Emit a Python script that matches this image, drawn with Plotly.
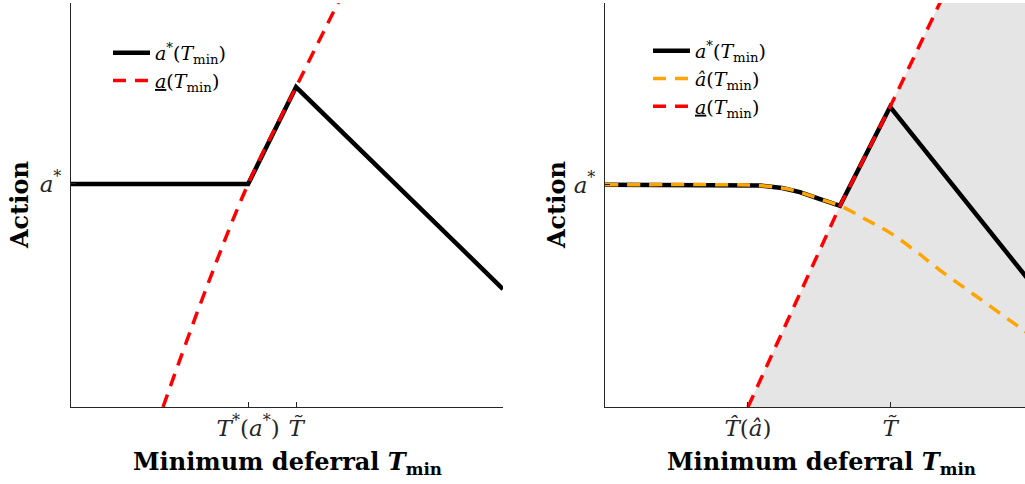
import plotly.graph_objects as go

# ---------------- data ----------------
# Left panel
L_black_x = [0, 4.10, 5.21, 10]
L_black_y = [5.52, 5.52, 7.92, 2.92]
L_red_x = [2.13, 3.10, 4.10, 5.21, 6.18, 6.60]
L_red_y = [0, 2.85, 5.52, 7.92, 10, 10.9]
L_xtick_vals = [4.10, 5.21]
L_xtick_text = ["<i>T</i><sup>*</sup>(<i>a</i><sup>*</sup>)", "<i>T\u0303</i>"]
L_ytick_vals = [5.52]
L_ytick_text = ["<i>a</i><sup>*</sup>"]

# Right panel
R_black_x = [0, 3.0, 3.6, 4.1, 4.51, 4.91, 5.44, 6.60, 10.2]
R_black_y = [5.50, 5.50, 5.48, 5.42, 5.32, 5.17, 4.98, 7.43, 2.62]
R_orange_x = [0, 3.0, 3.6, 4.1, 4.51, 4.91, 5.44, 6.06, 6.60, 7.2, 7.75, 8.7, 9.61, 10.2]
R_orange_y = [5.50, 5.50, 5.48, 5.42, 5.32, 5.17, 4.98, 4.63, 4.31, 3.85, 3.39, 2.66, 1.96, 1.50]
R_red_x = [3.31, 4.51, 5.44, 6.60, 7.75, 8.2]
R_red_y = [0, 2.81, 4.98, 7.43, 10, 11]
R_xtick_vals = [3.31, 6.60]
R_xtick_text = ["<i>T\u0302</i>(<i>\u00e2</i>)", "<i>T\u0303</i>"]
R_ytick_vals = [5.50]
R_ytick_text = ["<i>a</i><sup>*</sup>"]

LEG_BLACK = "<i>a</i><sup>*</sup>(<i>T</i><sub>min</sub>)"
LEG_ORANGE = "<i>\u00e2</i>(<i>T</i><sub>min</sub>)"
LEG_RED = "<u><i>a</i></u>(<i>T</i><sub>min</sub>)"

# ---------------- layout constants ----------------
FW, FH = 1025, 484
def fx(px):
    return px / FW
def fy(py):
    return 1 - py / FH

PX_PER_X = 43.2
PX_PER_Y = 40.4
Y_TOP = (407 - 3) / PX_PER_Y

SERIF = "DejaVu Serif"
AX = "#262626"
DASH = "13px,9px"

fig = go.Figure()

# Left traces
fig.add_trace(go.Scatter(x=L_black_x, y=L_black_y, mode="lines", name=LEG_BLACK,
                         line=dict(color="black", width=4.5), xaxis="x", yaxis="y",
                         legend="legend", legendgroup="a"))
fig.add_trace(go.Scatter(x=L_red_x, y=L_red_y, mode="lines", name=LEG_RED,
                         line=dict(color="#ff0000", width=3.5, dash=DASH, shape="spline"),
                         xaxis="x", yaxis="y", legend="legend", legendgroup="b"))

# Right traces
fig.add_trace(go.Scatter(x=R_red_x + [11, 11], y=R_red_y + [11, 0], mode="lines",
                         fill="toself", fillcolor="#e5e5e5", line=dict(width=0),
                         showlegend=False, hoverinfo="skip", xaxis="x2", yaxis="y2"))
fig.add_trace(go.Scatter(x=R_black_x, y=R_black_y, mode="lines", name=LEG_BLACK,
                         line=dict(color="black", width=4.5), xaxis="x2", yaxis="y2",
                         legend="legend2"))
fig.add_trace(go.Scatter(x=R_orange_x, y=R_orange_y, mode="lines", name=LEG_ORANGE,
                         line=dict(color="#ffa500", width=3.5, dash=DASH, shape="spline"),
                         xaxis="x2", yaxis="y2", legend="legend2"))
fig.add_trace(go.Scatter(x=R_red_x, y=R_red_y, mode="lines", name=LEG_RED,
                         line=dict(color="#ff0000", width=3.5, dash=DASH),
                         xaxis="x2", yaxis="y2", legend="legend2"))

ydom = [fy(407), fy(3)]
tickfont = dict(family=SERIF, size=23, color="#262626")
common_x = dict(showgrid=False, zeroline=False, showline=True, linecolor=AX, linewidth=1,
                ticks="inside", ticklen=5, tickcolor=AX, tickmode="array",
                tickfont=tickfont, mirror=False)
common_y = dict(showgrid=False, zeroline=False, showline=True, linecolor=AX, linewidth=1,
                ticks="inside", ticklen=5, tickcolor=AX, tickmode="array", range=[0, Y_TOP],
                tickfont=tickfont, mirror=False, ticklabelstandoff=4)

title_font = dict(family=SERIF, size=24, color="black")
leg_font = dict(family=SERIF, size=19, color="black")

fig.update_layout(
    width=FW, height=FH, margin=dict(l=0, r=0, t=0, b=0),
    paper_bgcolor="white", plot_bgcolor="white",
    xaxis=dict(domain=[fx(71), fx(503)], range=[0, 10], anchor="y",
               tickvals=L_xtick_vals, ticktext=L_xtick_text, **common_x),
    yaxis=dict(domain=ydom, anchor="x", tickvals=L_ytick_vals, ticktext=L_ytick_text, **common_y),
    xaxis2=dict(domain=[fx(605), 1.0], range=[0, (1025 - 605) / PX_PER_X], anchor="y2",
                tickvals=R_xtick_vals, ticktext=R_xtick_text, **common_x),
    yaxis2=dict(domain=ydom, anchor="x2", tickvals=R_ytick_vals, ticktext=R_ytick_text, **common_y),
    legend=dict(x=fx(108), y=fy(34), xanchor="left", yanchor="top", itemwidth=37,
                bgcolor="rgba(0,0,0,0)", font=leg_font, tracegroupgap=0),
    legend2=dict(x=fx(648), y=fy(32), xanchor="left", yanchor="top", itemwidth=37,
                 bgcolor="rgba(0,0,0,0)", font=leg_font, tracegroupgap=0),
    annotations=[
        dict(text="<b>Minimum deferral <i>T</i><sub>min</sub></b>", x=fx(287), y=fy(463),
             xref="paper", yref="paper", showarrow=False, xanchor="center", yanchor="middle",
             font=title_font),
        dict(text="<b>Minimum deferral <i>T</i><sub>min</sub></b>", x=fx(821), y=fy(463),
             xref="paper", yref="paper", showarrow=False, xanchor="center", yanchor="middle",
             font=title_font),
        dict(text="<b>Action</b>", x=fx(19), y=fy(205), xref="paper", yref="paper",
             showarrow=False, textangle=-90, xanchor="center", yanchor="middle",
             font=title_font),
        dict(text="<b>Action</b>", x=fx(556), y=fy(205), xref="paper", yref="paper",
             showarrow=False, textangle=-90, xanchor="center", yanchor="middle",
             font=title_font),
    ],
)

fig.write_html("out.html", config={"displayModeBar": False},
               post_script="document.body.style.margin='0px';"
                           "document.body.style.overflow='hidden';")
